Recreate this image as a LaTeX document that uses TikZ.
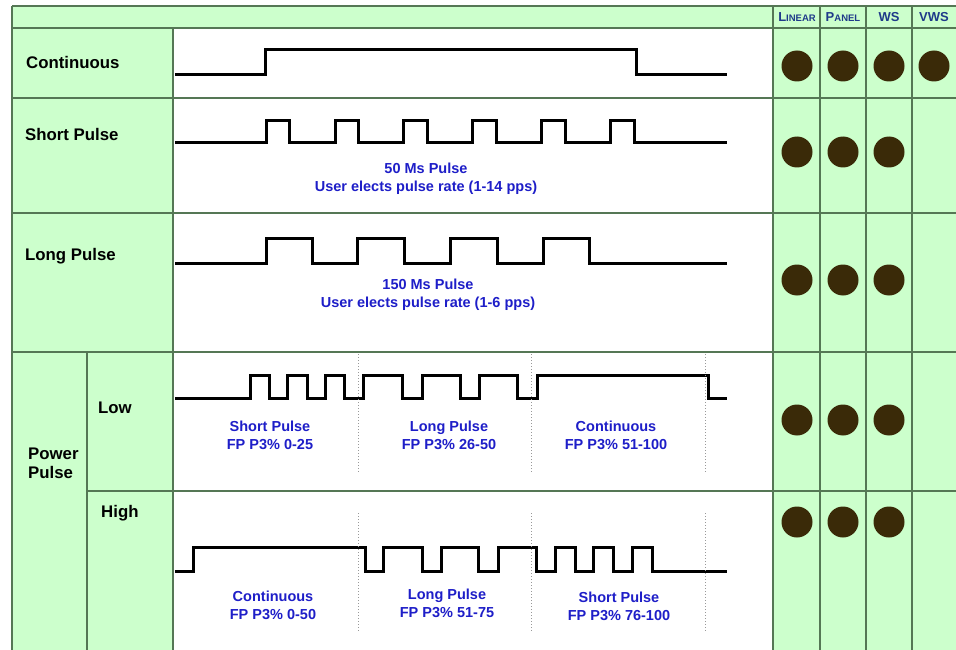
\documentclass[tikz,border=0pt]{standalone}
\usepackage{fontspec}
\setmainfont{Liberation Sans}
\definecolor{tgreen}{HTML}{CCFFCC}
\definecolor{tline}{HTML}{557755}
\definecolor{dotc}{HTML}{3A2A08}
\definecolor{tblue}{HTML}{1E1EC8}
\definecolor{hblue}{HTML}{1F3A8A}
\tikzset{
  grid/.style={draw=tline, line width=1.3pt},
  wave/.style={draw=black, line width=3pt, line join=miter},
  sep/.style={draw=gray!80, line width=1pt, dotted},
  lab/.style={font=\bfseries\fontsize{16.8}{19}\selectfont, text=black, inner sep=0pt, anchor=west},
  blu/.style={font=\bfseries\fontsize{14.5}{18}\selectfont, text=tblue, inner sep=0pt, align=center},
  hdr/.style={font=\bfseries\fontsize{13}{14}\selectfont, text=hblue, inner sep=0pt},
  dotm/.style={fill=dotc}
}
\newcommand{\smc}[2]{#1{\fontsize{9.5}{10}\selectfont #2}}
\begin{document}
\begin{tikzpicture}[x=1pt,y=-1pt]
\useasboundingbox (0,0) rectangle (956,650);
% fills
\fill[white] (0,0) rectangle (956,650);
\fill[tgreen] (12,6) rectangle (956,28);
\fill[tgreen] (12,28) rectangle (173,650);
\fill[tgreen] (773,6) rectangle (956,650);
% grid
\draw[grid] (12,6) -- (956,6);
\draw[grid] (12,28) -- (956,28);
\draw[grid] (12,98) -- (956,98);
\draw[grid] (12,213) -- (956,213);
\draw[grid] (12,352) -- (956,352);
\draw[grid] (87,491) -- (956,491);
\draw[grid] (12,6) -- (12,650);
\draw[grid] (173,28) -- (173,650);
\draw[grid] (87,352) -- (87,650);
\draw[grid] (773,6) -- (773,650);
\draw[grid] (820,6) -- (820,650);
\draw[grid] (866,6) -- (866,650);
\draw[grid] (912,6) -- (912,650);
% header
\node[hdr] (hlin) at (797,17) {\smc{L}{INEAR}};
\node[hdr] (hpan) at (843,17) {\smc{P}{ANEL}};
\node[hdr] (hws) at (889,17) {WS};
\node[hdr] (hvws) at (934,17) {VWS};
% left labels
\node[lab] (lcont) at (26,62) {Continuous};
\node[lab] (lshort) at (25,134) {Short Pulse};
\node[lab] (llong) at (25,256) {Long Pulse};
\node[lab] (llow) at (98,408) {Low};
\node[lab] (lhigh) at (101,513) {High};
\node[lab, align=left] (lpower) at (28,463) {Power\\Pulse};
% waveforms
\draw[wave] (175,75) -| (265,50) -| (636,75) -- (727,75);
\draw[wave] (175,143) -| (266,121) -| (289,143) -| (335,121) -| (358,143) -| (403,121) -| (427,143) -| (472,121) -| (496,143) -| (541,121) -| (565,143) -| (610,121) -| (634,143) -- (727,143);
\draw[wave] (175,263) -| (266,238) -| (312,263) -| (357,238) -| (404,263) -| (450,238) -| (497,263) -| (543,238) -| (589,263) -- (727,263);
\draw[wave] (175,398) -| (250,375) -| (269,398) -| (287,375) -| (307,398) -| (325,375) -| (344,398) -| (363,375) -| (402,398) -| (422,375) -| (460,398) -| (479,375) -| (517,398) -| (537,375) -| (708,398) -- (727,398);
\draw[wave] (175,571) -| (193,547) -| (365,571) -| (383,547) -| (422,571) -| (441,547) -| (478,571) -| (498,547) -| (536,571) -| (555,547) -| (575,571) -| (593,547) -| (613,571) -| (632,547) -| (652,571) -- (727,571);
% dotted separators
\foreach \xx in {358,531,705} {
  \draw[sep] (\xx,354) -- (\xx,472);
  \draw[sep] (\xx,513) -- (\xx,632);
}
% blue texts
\node[blu] (t1) at (426,179) {50 Ms Pulse\\User elects pulse rate (1-14 pps)};
\node[blu] (t2) at (428,295) {150 Ms Pulse\\User elects pulse rate (1-6 pps)};
\node[blu] (t3) at (270,435) {Short Pulse\\FP P3\% 0-25};
\node[blu] (t4) at (449,435) {Long Pulse\\FP P3\% 26-50};
\node[blu] (t5) at (616,435) {Continuous\\FP P3\% 51-100};
\node[blu] (t6) at (273,605) {Continuous\\FP P3\% 0-50};
\node[blu] (t7) at (447,603) {Long Pulse\\FP P3\% 51-75};
\node[blu] (t8) at (619,606) {Short Pulse\\FP P3\% 76-100};
% dots
\foreach \xx in {797,843,889,934} \fill[dotm] (\xx,66) circle (15.5pt);
\foreach \yy in {152,280,420,522} {
  \foreach \xx in {797,843,889} \fill[dotm] (\xx,\yy) circle (15.5pt);
}
\end{tikzpicture}
\end{document}
